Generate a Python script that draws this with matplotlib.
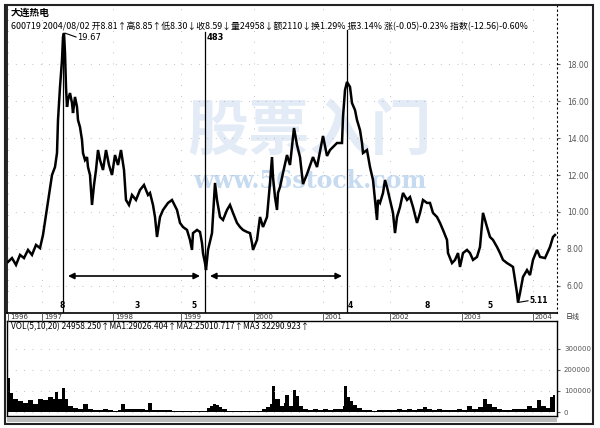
import matplotlib
matplotlib.use("Agg")
import matplotlib.pyplot as plt
import matplotlib.patches as mpatches
from matplotlib.lines import Line2D

cjk = ['Noto Sans CJK SC', 'DejaVu Sans']

# daily bar number (from the start of the chart) and price
days = [0, 4, 8, 12, 16, 20, 24, 28, 32, 35, 38, 41, 44, 47, 49, 50, 52, 54, 55, 56,
        57, 58, 59, 60, 62, 64, 65, 67, 69, 70, 72, 74, 75, 77, 79, 80, 82, 84, 86, 88,
        90, 92, 95, 98, 101, 104, 107, 110, 113, 116, 118, 121, 124, 128, 132, 136, 140, 142,
        145, 147, 149, 152, 155, 160, 164, 169, 172, 175, 179, 182, 184, 185, 189, 192, 194,
        195, 197, 198, 200, 204, 207, 209, 212, 215, 219, 222, 225, 229, 232, 235, 239, 242,
        244, 245, 249, 252, 255, 259, 262, 264, 265, 267, 269, 270, 272, 275, 279, 282, 286,
        289, 292, 295, 299, 305, 309, 315, 319, 322, 325, 329, 334, 335, 337, 339, 342, 344,
        347, 349, 352, 354, 355, 359, 362, 365, 367, 369, 370, 372, 375, 377, 379, 382, 385,
        387, 389, 392, 395, 399, 402, 405, 409, 412, 415, 419, 422, 425, 429, 432, 435, 439,
        440, 444, 447, 450, 452, 455, 459, 462, 465, 469, 472, 475, 479, 482, 485, 489, 492,
        495, 499, 502, 505, 507, 509, 510, 512, 515, 519, 522, 525, 529, 532, 537, 542, 545, 547]
close = [7.30, 7.51, 7.14, 7.68, 7.51, 7.95, 7.68, 8.22, 8.05, 8.76, 9.84, 10.92, 12.00,
         12.43, 13.19, 14.97, 16.76, 18.22, 19.46, 19.67, 18.59, 16.76, 15.68, 16.05, 16.43,
         15.89, 15.35, 16.22, 15.68, 14.97, 14.59, 13.89, 13.19, 12.81, 12.97, 12.43, 12.00,
         10.38, 11.46, 12.27, 13.35, 12.81, 12.27, 13.35, 12.54, 12.00, 13.08, 12.54, 13.35,
         12.27, 10.65, 10.38, 10.92, 10.65, 11.19, 11.46, 10.92, 11.03, 10.38, 9.73, 8.65,
         9.73, 10.11, 10.49, 10.65, 10.11, 9.41, 9.19, 9.03, 8.49, 7.95, 8.86, 9.03, 8.92,
         8.32, 7.78, 7.24, 6.86, 7.95, 8.86, 11.57, 10.65, 9.73, 9.57, 10.11, 10.38, 9.95,
         9.41, 9.19, 9.03, 8.92, 8.86, 8.32, 7.95, 8.49, 9.73, 9.19, 9.73, 11.57, 12.97,
         11.89, 10.81, 10.11, 11.03, 11.35, 12.11, 13.08, 12.54, 14.54, 13.62, 12.97, 11.51,
         12.05, 12.97, 12.43, 14.11, 13.03, 13.35, 13.51, 13.73, 13.73, 15.13, 16.59, 17.03,
         16.76, 15.89, 15.51, 14.97, 14.43, 13.73, 13.19, 13.35, 12.43, 11.73, 10.65, 9.57,
         10.65, 10.49, 11.03, 11.73, 11.35, 10.65, 9.95, 8.86, 9.73, 10.27, 11.03, 10.65,
         10.81, 10.27, 9.41, 9.95, 10.65, 10.49, 10.49, 9.95, 9.73, 9.41, 9.03, 8.49, 7.78,
         7.24, 7.41, 7.78, 7.03, 7.78, 7.95, 7.78, 7.41, 7.57, 8.11, 9.95, 9.19, 8.65, 8.49,
         8.11, 7.78, 7.41, 7.24, 7.14, 7.03, 6.32, 5.62, 5.11, 5.62, 6.49, 6.86, 6.59, 7.41,
         7.95, 7.57, 7.51, 8.11, 8.65, 8.76]

# volume (hands), read at roughly 5-bar steps
vol_days = [0, 2, 5, 10, 15, 20, 25, 30, 35, 40, 45, 47, 50, 54, 57, 60, 65, 70, 75, 80,
            85, 90, 95, 100, 105, 110, 113, 117, 122, 127, 132, 137, 140, 144, 149, 154,
            159, 164, 169, 174, 179, 184, 189, 194, 199, 202, 205, 208, 211, 214, 219, 224,
            229, 234, 239, 244, 249, 254, 258, 262, 264, 267, 272, 276, 277, 281, 285, 288,
            291, 295, 300, 305, 310, 315, 320, 325, 330, 335, 336, 339, 342, 345, 349, 354,
            359, 364, 369, 374, 379, 384, 389, 394, 399, 404, 409, 415, 419, 424, 429, 434,
            439, 444, 449, 454, 459, 464, 470, 475, 479, 484, 489, 494, 499, 504, 509, 514,
            519, 524, 529, 533, 538, 542, 545, 547]
volume = [160000, 90000, 60000, 50000, 45000, 55000, 40000, 60000, 55000, 70000, 60000,
          95000, 60000, 115000, 60000, 30000, 20000, 15000, 38000, 12000, 10000, 8000,
          12000, 8000, 6000, 10000, 40000, 12000, 14000, 12000, 15000, 10000, 42000, 10000,
          8000, 9000, 8000, 6000, 5000, 4000, 5000, 4000, 3000, 6000, 18000, 30000, 38000,
          35000, 25000, 12000, 6000, 5000, 6000, 5000, 4000, 5000, 6000, 15000, 25000,
          40000, 125000, 60000, 30000, 45000, 80000, 30000, 105000, 75000, 30000, 12000,
          10000, 12000, 10000, 12000, 10000, 15000, 12000, 30000, 125000, 70000, 50000,
          35000, 20000, 10000, 8000, 7000, 10000, 8000, 10000, 9000, 12000, 10000, 12000,
          10000, 14000, 24000, 12000, 10000, 12000, 8000, 10000, 8000, 12000, 10000, 30000,
          12000, 25000, 60000, 40000, 25000, 15000, 10000, 8000, 12000, 15000, 14000, 30000,
          18000, 55000, 30000, 20000, 70000, 80000, 60000]

price_ticks = [6, 8, 10, 12, 14, 16, 18]
vol_ticks = [0, 100000, 200000, 300000]
year_days = [0, 34, 105, 173, 246, 315, 382, 454, 525]
year_labels = ['1996', '1997', '1998', '1999', '2000', '2001', '2002', '2003', '2004']

cycle_days = [55, 197, 339]
cycle_tops = [19.67, 19.73, 19.84]
mark_days = [54, 129, 186, 342, 419, 482]
mark_labels = ['8', '3', '5', '4', '8', '5']

W, H = 600, 428
fig = plt.figure(figsize=(6, 4.28), dpi=100)


def box(x0, y0, x1, y1):
    # pixel box (top-left origin) -> figure fractions
    return [x0 / W, 1 - y1 / H, (x1 - x0) / W, (y1 - y0) / H]


ax = fig.add_axes(box(7, 5, 557, 313))
av = fig.add_axes(box(7, 321, 557, 416))

xmin, xmax = -1, 549

# price panel
ax.plot(days, close, color='black', lw=1.8, solid_joinstyle='miter', zorder=3)
ax.set_xlim(xmin, xmax)
ax.set_ylim(4.54, 21.19)
ax.set_yticks(price_ticks)
ax.set_yticklabels(['%.2f' % t for t in price_ticks])
ax.yaxis.tick_right()
ax.tick_params(axis='y', length=2, pad=5, labelsize=5.5, colors='#555555')
ax.set_xticks([])
ax.grid(axis='y', color='#aaaaaa', lw=0.6, ls=(0, (1, 9)))
for t in year_days:
    ax.axvline(t, color='#aaaaaa', lw=0.6, ls=(0, (1, 12)), zorder=0)
for s in ['top', 'bottom', 'left', 'right']:
    ax.spines[s].set_linewidth(1.2)
ax.spines['right'].set_linestyle((0, (1, 3)))
ax.spines['right'].set_linewidth(0.8)

# watermark
ax.text(0.55, 0.59, '股票入门', transform=ax.transAxes, ha='center', va='center',
        fontsize=44, fontweight='bold', color='#e2ebf6', family=cjk, zorder=1)
ax.text(0.55, 0.43, 'www.56stock.com', transform=ax.transAxes, ha='center', va='center',
        fontsize=17, fontweight='bold', color='#c6dbf0', family='DejaVu Serif', zorder=1)

# cycle lines and arrows
for d, top in zip(cycle_days, cycle_tops):
    ax.plot([d, d], [top, 4.54], color='black', lw=0.9, zorder=4)
arrow_y = 6.54
for a, b in [(cycle_days[0] + 5, cycle_days[1] - 5), (cycle_days[1] + 5, cycle_days[2] - 5)]:
    ax.annotate('', xy=(b, arrow_y), xytext=(a, arrow_y),
                arrowprops=dict(arrowstyle='<|-|>', color='black', lw=1.2,
                                mutation_scale=9, shrinkA=0, shrinkB=0), zorder=4)
for d, lab in zip(mark_days, mark_labels):
    ax.text(d, 4.95, lab, ha='center', va='center', fontsize=5.5, fontweight='bold')

ax.plot([57, 68], [19.67, 19.46], color='black', lw=0.8)
ax.text(69, 19.46, '19.67', fontsize=6, va='center')
ax.text(199, 19.46, '483', fontsize=6, va='center', fontweight='bold')
ax.plot([510, 520], [5.11, 5.2], color='black', lw=0.8)
ax.text(521, 5.2, '5.11', fontsize=5.5, va='center', fontweight='bold')

# header text
ax.text(3, 20.75, '大连热电', fontsize=7, fontweight='bold', family=cjk, va='center')
ax.text(3, 20.05,
        '600719 2004/08/02 开8.81↑高8.85↑低8.30↓收8.59↓量24958↓额2110↓换1.29% 振3.14% '
        '涨(-0.05)-0.23% 指数(-12.56)-0.60%',
        fontsize=6.4, family=cjk, va='center')

# year strip between panels
for d, lab in zip(year_days, year_labels):
    xf = (7 + (d - xmin) / (xmax - xmin) * 550) / W
    fig.add_artist(Line2D([xf, xf], [1 - 321 / H, 1 - 313 / H], color='#444444', lw=0.6))
    fig.text(xf + 2 / W, 1 - 317 / H, lab, fontsize=5, va='center', color='#333333')
fig.text(566 / W, 1 - 317 / H, '日线', fontsize=5, va='center', color='#333333', family=cjk)

# volume panel
av.bar(vol_days[:-1], volume[:-1], width=[b - a for a, b in zip(vol_days[:-1], vol_days[1:])],
       align='edge', color='black', lw=0)
av.set_xlim(xmin, xmax)
av.set_ylim(-19000, 433000)
av.set_yticks(vol_ticks)
av.set_yticklabels([str(v) for v in vol_ticks])
av.yaxis.tick_right()
av.tick_params(axis='y', length=2, pad=3, labelsize=5, colors='#555555')
av.set_xticks([])
av.grid(axis='y', color='#aaaaaa', lw=0.6, ls=(0, (1, 9)))
for s in ['top', 'bottom', 'left', 'right']:
    av.spines[s].set_linewidth(1.0)
av.text(3, 405000, 'VOL(5,10,20) 24958.250↑MA1:29026.404↑MA2:25010.717↑MA3 32290.923↑',
        fontsize=6, family=cjk, va='center')

# outer frame and scroll strip
fig.add_artist(mpatches.Rectangle((5 / W, 1 - 424 / H), 588 / W, 419 / H, fill=False,
                                  lw=1.5, ec='#222222'))
fig.add_artist(mpatches.Rectangle((7 / W, 1 - 422 / H), 550 / W, 5 / H, fill=True,
                                  lw=0, fc='#bbbbbb'))

fig.savefig('out.png', dpi=100)
